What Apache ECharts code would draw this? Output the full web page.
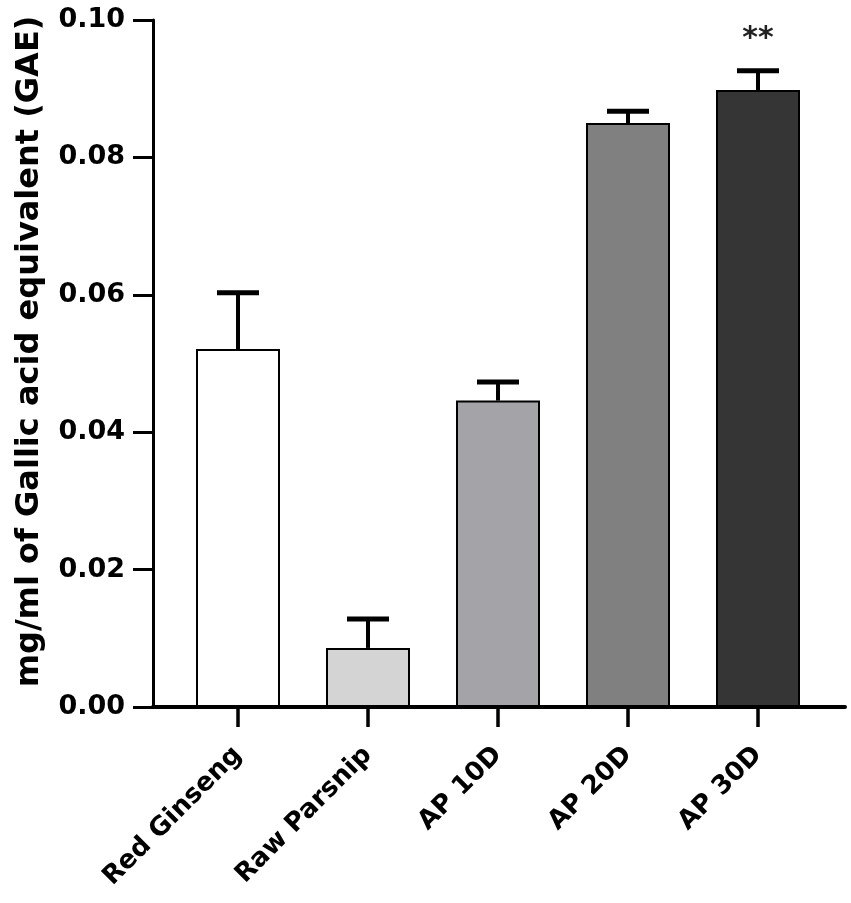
<!DOCTYPE html>
<html>
<head>
<meta charset="utf-8">
<script src="https://cdn.jsdelivr.net/npm/echarts@6/dist/echarts.min.js"></script>
<style>
  html, body { margin: 0; padding: 0; background: #fff; }
  #app { width: 851px; height: 903px; }
</style>
</head>
<body>
<div id="app"></div>
<script>
const categories = ["Red Ginseng", "Raw Parsnip", "AP 10D", "AP 20D", "AP 30D"];
const means = [0.0521, 0.0086, 0.0446, 0.0850, 0.0898];
const errors = [0.0082, 0.0042, 0.0027, 0.0017, 0.0028];
const significance = ["", "", "", "", "**"];
const barColors = ["#ffffff", "#d4d4d4", "#a4a4a8", "#808080", "#353535"];

const font = "DejaVu Sans";

const dom = document.getElementById("app");
const myChart = echarts.init(dom);

const barData = means.map((v, i) => ({
  value: v,
  itemStyle: { color: barColors[i] }
}));

const errData = means.map((v, i) => [i, v, errors[i]]);

function renderError(params, api) {
  const idx = api.value(0);
  const mean = api.value(1);
  const err = api.value(2);
  const base = api.coord([idx, mean]);
  const top = api.coord([idx, mean + err]);
  const capHalf = 21;
  const children = [
    {
      type: "line",
      shape: { x1: base[0], y1: base[1], x2: top[0], y2: top[1] },
      style: { stroke: "#000", lineWidth: 4 }
    },
    {
      type: "line",
      shape: { x1: top[0] - capHalf, y1: top[1], x2: top[0] + capHalf, y2: top[1] },
      style: { stroke: "#000", lineWidth: 5 }
    }
  ];
  const sig = significance[idx];
  if (sig) {
    children.push({
      type: "text",
      x: top[0],
      y: top[1] - 32,
      style: {
        text: sig,
        fill: "#222",
        font: "bold 30px " + font,
        align: "center",
        verticalAlign: "middle"
      }
    });
  }
  return { type: "group", children: children };
}

myChart.setOption({
  animation: false,
  grid: [
    { left: 173, right: 28, top: 20, bottom: 196 },
    { left: 153, right: 6, top: 20, bottom: 196 }
  ],
  xAxis: [
    {
      type: "category",
      gridIndex: 0,
      data: categories,
      axisLine: { show: false },
      axisTick: {
        show: true,
        alignWithLabel: true,
        length: 20,
        lineStyle: { color: "#000", width: 3.5 }
      },
      axisLabel: {
        rotate: 45,
        margin: 44,
        color: "#000",
        fontFamily: font,
        fontWeight: "bold",
        fontSize: 26,
        interval: 0
      }
    },
    {
      type: "value",
      gridIndex: 1,
      min: 0,
      max: 1,
      axisLine: { show: true, lineStyle: { color: "#000", width: 4 } },
      axisTick: { show: false },
      axisLabel: { show: false },
      splitLine: { show: false }
    }
  ],
  yAxis: [
    {
      type: "value",
      gridIndex: 0,
      min: 0,
      max: 0.1,
      interval: 0.02,
      offset: 20,
      name: "mg/ml of Gallic acid equivalent (GAE)",
      nameLocation: "middle",
      nameGap: 107,
      nameTextStyle: {
        color: "#000",
        fontFamily: font,
        fontWeight: "bold",
        fontSize: 32,
        padding: [0, 0, 0, 24]
      },
      axisLine: { show: true, lineStyle: { color: "#000", width: 3 } },
      axisTick: { show: true, length: 20, lineStyle: { color: "#000", width: 3 } },
      axisLabel: {
        margin: 28,
        color: "#000",
        fontFamily: font,
        fontWeight: "bold",
        fontSize: 27,
        formatter: (v) => v.toFixed(2)
      },
      splitLine: { show: false }
    },
    {
      type: "value",
      gridIndex: 1,
      show: false
    }
  ],
  series: [
    {
      name: "GAE",
      type: "bar",
      xAxisIndex: 0,
      yAxisIndex: 0,
      barWidth: 84,
      itemStyle: { borderColor: "#000", borderWidth: 2 },
      data: barData,
      z: 2
    },
    {
      name: "error",
      type: "custom",
      xAxisIndex: 0,
      yAxisIndex: 0,
      renderItem: renderError,
      data: errData,
      z: 3
    }
  ]
});
</script>
</body>
</html>
